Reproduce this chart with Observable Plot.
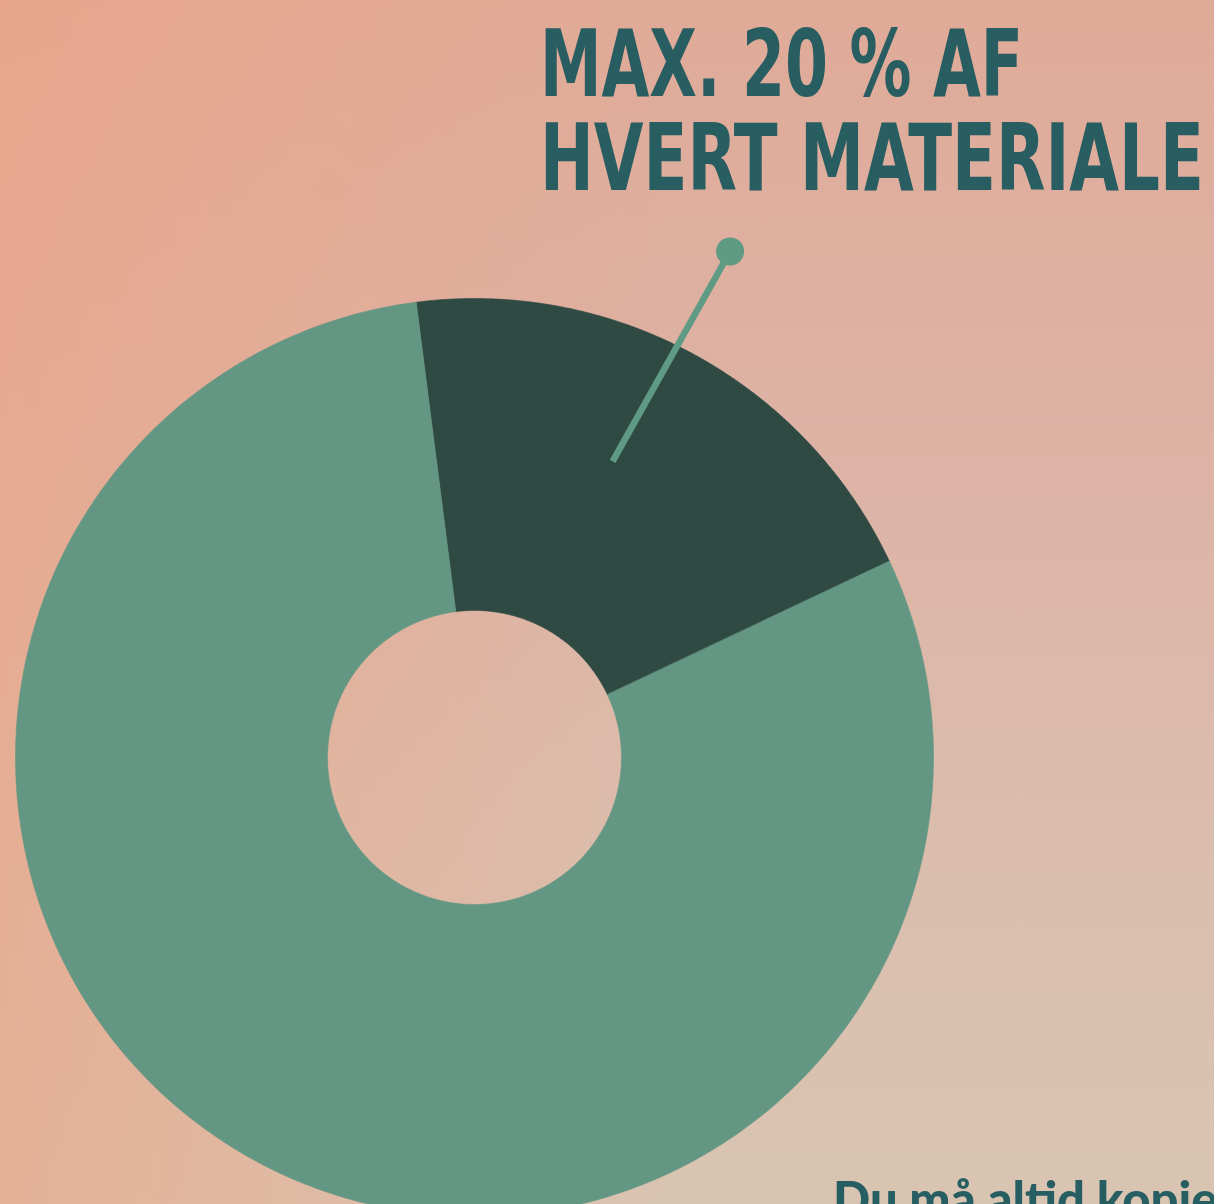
<!DOCTYPE html>
<html>
<head>
<meta charset="utf-8">
<script src="https://cdn.jsdelivr.net/npm/d3@7"></script>
<script src="https://cdn.jsdelivr.net/npm/@observablehq/plot@0.6"></script>
<style>
  html, body { margin: 0; padding: 0; }
  body {
    width: 1214px; height: 1204px; overflow: hidden; position: relative;
    background:
      linear-gradient(90deg, rgba(236,164,132,0.6) 0%, rgba(236,164,132,0) 55%),
      linear-gradient(180deg, #e0aa98 0%, #ddb2a4 35%, #dbbcac 65%, #d9c4b2 100%);
  }
  #chart { position: absolute; left: 0; top: 0; }
  .title {
    position: absolute; left: 540px; white-space: nowrap;
    font-family: "Liberation Sans Narrow", "DejaVu Sans Condensed", sans-serif;
    font-weight: 700; color: #285d61; font-size: 92px; line-height: 0.8;
    transform-origin: 0 0;
  }
  #foot {
    position: absolute; left: 833px; top: 1174px; white-space: nowrap;
    font-family: Lato, "Noto Sans", sans-serif; font-weight: 900;
    color: #275e62; font-size: 49px; line-height: 1;
  }
</style>
</head>
<body>
<div id="chart"></div>
<div class="title" id="t1">MAX. 20 % AF</div>
<div class="title" id="t2">HVERT MATERIALE</div>
<div id="foot">Du må altid kopiere</div>
<script>
// Data
const labels = ["Max. 20 % af hvert materiale", "Resten"];
const values = [20, 80];
const colors = ["#2e4a43", "#639783"];
const titleLines = ["MAX. 20 % AF", "HVERT MATERIALE"];

// Geometry (in radius units, outer radius = 1)
const innerRatio = 147 / 459;
const startAngle = -7.3 * Math.PI / 180;

const pie = d3.pie().sort(null).startAngle(startAngle).endAngle(startAngle + 2 * Math.PI);
const arcs = pie(values);

const polys = [];
arcs.forEach((a, i) => {
  const n = 240;
  for (let k = 0; k <= n; k++) {
    const t = a.startAngle + (a.endAngle - a.startAngle) * k / n;
    polys.push({label: labels[i], x: Math.sin(t), y: Math.cos(t)});
  }
  for (let k = n; k >= 0; k--) {
    const t = a.startAngle + (a.endAngle - a.startAngle) * k / n;
    polys.push({label: labels[i], x: innerRatio * Math.sin(t), y: innerRatio * Math.cos(t)});
  }
});

// Leader line from inside the highlighted slice to a dot above it
const dark = arcs[0];
const mid = (dark.startAngle + dark.endAngle) / 2;
const deg = Math.PI / 180;
const a0 = mid - 3.7 * deg, a1 = mid - 1.9 * deg;
const r0 = 0.712, r1 = 1.235;
const leader = [{x1: r0 * Math.sin(a0), y1: r0 * Math.cos(a0), x2: r1 * Math.sin(a1), y2: r1 * Math.cos(a1)}];

const R = 459, cx = 474, cy = 757, W = 1214, H = 1204;

const chart = Plot.plot({
  width: W, height: H,
  margin: 0,
  x: {domain: [-cx / R, (W - cx) / R], axis: null},
  y: {domain: [-(H - cy) / R, cy / R], axis: null},
  color: {domain: labels, range: colors},
  style: {background: "transparent", overflow: "visible"},
  marks: [
    Plot.line(polys, {x: "x", y: "y", z: "label", fill: "label", stroke: "label", strokeWidth: 0.6, curve: "linear-closed"}),
    Plot.link(leader, {x1: "x1", y1: "y1", x2: "x2", y2: "y2", stroke: "#5f9a85", strokeWidth: 6.5}),
    Plot.dot(leader, {x: "x2", y: "y2", r: 14, fill: "#5f9a85", stroke: "none"})
  ]
});
document.getElementById("chart").appendChild(chart);

// Fit title lines to their widths
function fit(id, text, top, width) {
  const el = document.getElementById(id);
  el.textContent = text;
  el.style.top = top + "px";
  const w = el.getBoundingClientRect().width;
  el.style.transform = `scaleX(${width / w})`;
}
fit("t1", titleLines[0], 28, 483);
fit("t2", titleLines[1], 122, 664);
</script>
</body>
</html>
